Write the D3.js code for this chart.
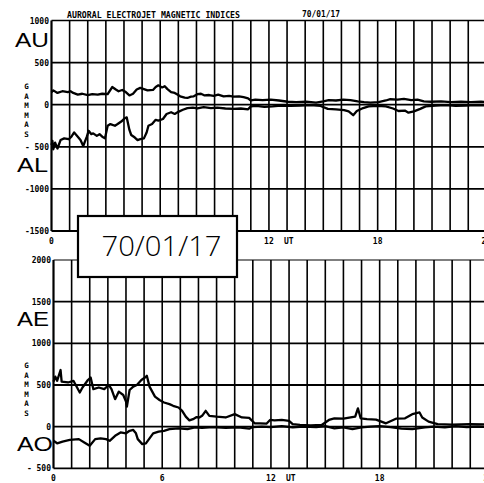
<!DOCTYPE html>
<html>
<head>
<meta charset="utf-8">
<script src="https://cdn.jsdelivr.net/npm/d3@7"></script>
<style>
  html, body { margin: 0; padding: 0; background: #fff; }
  svg { display: block; }
</style>
</head>
<body>
<div id="chart"></div>
<script>
// Auroral electrojet indices for 1970-01-17, [UT hour, gammas]
const AU = [
  [0,150],[0.1,170],[0.33,140],[0.6,160],[0.9,150],[1.05,160],[1.2,140],[1.45,120],[1.7,130],
  [2.0,115],[2.25,125],[2.55,120],[2.8,130],[3.1,125],[3.35,210],[3.55,180],[3.7,160],[3.9,175],
  [4.1,150],[4.3,110],[4.5,130],[4.7,180],[4.9,200],[5.1,185],[5.3,170],[5.6,175],[5.75,210],
  [5.9,230],[6.1,205],[6.25,220],[6.4,185],[6.6,150],[6.8,140],[6.95,120],[7.1,100],[7.35,85],
  [7.5,80],[7.7,95],[7.85,100],[8.05,125],[8.25,130],[8.45,110],[8.7,115],[8.95,105],[9.2,120],
  [9.5,100],[9.8,105],[10.05,95],[10.35,100],[10.6,90],[10.85,75],[11.0,50],[11.25,60],[11.65,55],
  [12.1,60],[12.55,50],[13.05,35],[13.5,30],[14.05,35],[14.6,25],[15.0,40],[15.3,55],[15.7,50],
  [16.1,60],[16.5,55],[16.9,40],[17.25,30],[17.6,25],[18.05,30],[18.45,50],[18.7,65],[19.1,60],
  [19.45,70],[19.85,55],[20.2,60],[20.55,40],[20.95,35],[21.5,40],[22.05,30],[22.6,35],[23.15,30],
  [23.7,35],[24,30]
];
const AL = [
  [0,-480],[0.05,-430],[0.1,-530],[0.2,-450],[0.33,-520],[0.5,-420],[0.7,-400],[0.95,-410],
  [1.1,-380],[1.25,-330],[1.45,-380],[1.6,-420],[1.75,-490],[1.95,-380],[2.05,-310],[2.2,-350],
  [2.3,-340],[2.5,-370],[2.65,-350],[2.8,-380],[2.95,-400],[3.1,-250],[3.25,-230],[3.5,-250],
  [3.65,-230],[3.85,-200],[4.05,-160],[4.15,-150],[4.3,-300],[4.4,-360],[4.6,-390],[4.75,-420],
  [4.9,-410],[5.1,-400],[5.25,-330],[5.35,-250],[5.55,-230],[5.75,-180],[5.9,-190],[6.15,-170],
  [6.35,-110],[6.6,-90],[6.8,-110],[7.0,-85],[7.25,-60],[7.5,-40],[7.8,-35],[8.05,-45],[8.4,-30],
  [8.8,-40],[9.15,-35],[9.6,-45],[10.05,-50],[10.45,-45],[10.85,-55],[11.0,-20],[11.3,-15],
  [11.75,-25],[12.2,-20],[12.65,-10],[13.2,-15],[13.75,-10],[14.3,-5],[14.85,-15],[15.25,-50],
  [15.7,-55],[16.15,-65],[16.4,-80],[16.65,-125],[16.85,-75],[17.2,-40],[17.5,-20],[18.0,-15],
  [18.45,-20],[18.85,-45],[19.15,-75],[19.5,-70],[19.7,-95],[20.0,-80],[20.35,-50],[20.65,-20],
  [21.2,-10],[21.75,-5],[22.3,-15],[22.85,-10],[23.4,-5],[24,-10]
];
const AE = [
  [0,540],[0.1,600],[0.2,550],[0.39,680],[0.45,540],[0.8,530],[1.1,550],[1.45,410],[1.6,470],
  [1.9,560],[2.05,590],[2.2,450],[2.5,470],[2.8,450],[3.05,500],[3.2,450],[3.4,330],[3.6,420],
  [3.85,380],[4.0,300],[4.05,240],[4.2,440],[4.4,480],[4.6,500],[4.85,560],[5.05,590],[5.15,610],
  [5.3,480],[5.6,360],[5.85,320],[6.1,290],[6.4,270],[6.6,250],[6.9,230],[7.1,190],[7.3,120],
  [7.5,75],[7.7,90],[7.9,115],[8.05,110],[8.2,130],[8.4,190],[8.6,130],[9.0,120],[9.5,110],
  [10.0,150],[10.4,110],[10.8,105],[11.1,40],[11.4,40],[11.75,35],[11.95,80],[12.2,75],[12.6,80],
  [13.0,70],[13.2,30],[13.6,20],[14.2,15],[14.8,20],[15.2,80],[15.5,100],[16.0,95],[16.4,110],
  [16.65,120],[16.8,220],[16.95,100],[17.3,90],[17.8,85],[18.35,40],[18.9,95],[19.4,100],
  [19.8,150],[20.2,170],[20.35,110],[20.7,60],[21.2,30],[22.0,25],[23.0,30],[24,25]
];
const AO = [
  [0,-170],[0.2,-200],[0.5,-180],[0.9,-160],[1.4,-150],[1.7,-190],[2.0,-230],[2.3,-150],
  [2.6,-140],[2.9,-150],[3.1,-170],[3.4,-110],[3.7,-70],[4.0,-80],[4.2,-50],[4.4,-40],[4.55,-80],
  [4.65,-150],[4.9,-210],[5.1,-200],[5.3,-140],[5.5,-80],[5.8,-60],[6.1,-50],[6.4,-30],[6.9,-20],
  [7.4,-30],[7.8,-10],[8.2,-15],[8.8,-5],[9.5,-15],[10.2,-10],[10.8,-25],[11.0,-5],[11.5,0],
  [12.0,-5],[12.6,5],[13.2,-10],[13.8,0],[14.5,-5],[15.0,5],[15.5,-20],[16.0,-10],[16.5,-30],
  [17.0,-10],[17.5,0],[18.0,5],[18.6,-5],[19.2,-25],[19.8,-30],[20.5,-10],[21.0,0],[21.6,-10],
  [22.2,5],[22.8,-5],[23.4,0],[24,-5]
];

const topTicks = [1000, 500, 0, -500, -1000, -1500];
const topTickLabels = ["1000", "500", "0", "- 500", "-1000", "-1500"];
const bottomTicks = [2000, 1500, 1000, 500, 0, -500];
const bottomTickLabels = ["2000", "1500", "1000", "500", "0", "- 500"];
const hourTicks = [0, 6, 12, 18, 24];
const hourTickLabels = ["0", "6", "12", "18", "24"];
const unitLetters = ["G", "A", "M", "M", "A", "S"];

const W = 484, H = 483;
const svg = d3.select("#chart").append("svg")
  .attr("width", W).attr("height", H);

const plotFont = "'DejaVu Sans Mono', monospace";
const bigFont = "'Liberation Sans', Arial, sans-serif";

function panel(opts) {
  const x = d3.scaleLinear().domain([0, 24]).range([opts.x0, opts.x0 + 24 * 18.12]);
  const y = d3.scaleLinear().domain(opts.domain).range(opts.range);
  const g = svg.append("g");
  const [ymin, ymax] = opts.domain;

  // horizontal grid (every 500 gammas)
  const hLines = d3.range(ymin, ymax + 1, 500);
  g.selectAll("line.h").data(hLines).join("line")
    .attr("x1", x(0)).attr("x2", x(24))
    .attr("y1", d => y(d)).attr("y2", d => y(d))
    .attr("stroke", "#000")
    .attr("stroke-width", d => d === ymax ? opts.topWidth : 1.8);

  // hourly vertical grid
  g.selectAll("line.v").data(d3.range(0, 25)).join("line")
    .attr("x1", d => x(d)).attr("x2", d => x(d))
    .attr("y1", y(ymax)).attr("y2", y(ymin))
    .attr("stroke", "#000")
    .attr("stroke-width", d => d === 0 ? 2.2 : 1.6);

  // y tick labels
  g.selectAll("text.yt").data(opts.ticks).join("text")
    .attr("x", opts.x0 - 2.5)
    .attr("y", d => y(d) + 3)
    .attr("text-anchor", "end")
    .attr("font-family", plotFont).attr("font-weight", "bold")
    .attr("font-size", 8)
    .text((d, i) => opts.tickLabels[i]);

  // x tick labels (the date stamp covers the upper panel's "6")
  const shownHours = hourTicks.filter(h => !opts.hideHours.includes(h));
  g.selectAll("text.xt").data(shownHours).join("text")
    .attr("x", d => x(d))
    .attr("y", y(ymin) + 13)
    .attr("text-anchor", "middle")
    .attr("font-family", plotFont).attr("font-weight", "bold")
    .attr("font-size", 8)
    .text(d => hourTickLabels[hourTicks.indexOf(d)]);
  g.append("text")
    .attr("x", x(12) + 15).attr("y", y(ymin) + 13)
    .attr("font-family", plotFont).attr("font-weight", "bold")
    .attr("font-size", 8)
    .text("UT");

  // unit label, one letter per line
  g.selectAll("text.unit").data(unitLetters).join("text")
    .attr("x", 26.5)
    .attr("y", (d, i) => opts.unitTop + i * 9.5)
    .attr("text-anchor", "middle")
    .attr("font-family", plotFont).attr("font-weight", "bold")
    .attr("font-size", 7.5)
    .text(d => d);

  // index curves
  const line = d3.line().x(d => x(d[0])).y(d => y(d[1]));
  opts.series.forEach(s => {
    g.append("path")
      .datum(s)
      .attr("d", line)
      .attr("fill", "none")
      .attr("stroke", "#000")
      .attr("stroke-width", 2.3)
      .attr("stroke-linejoin", "round");
  });

  // big series names
  opts.names.forEach(n => {
    g.append("text")
      .attr("x", n.x).attr("y", n.y)
      .attr("font-family", bigFont)
      .attr("font-size", 20)
      .attr("textLength", n.w).attr("lengthAdjust", "spacingAndGlyphs")
      .text(n.t);
  });
  return { x, y };
}

panel({
  x0: 51.5, domain: [-1500, 1000], range: [231, 20.5],
  ticks: topTicks, tickLabels: topTickLabels, unitTop: 89, topWidth: 1.5,
  hideHours: [6],
  series: [AU, AL],
  names: [{ t: "AU", x: 15, y: 46.7, w: 34 }, { t: "AL", x: 17, y: 171.7, w: 31 }]
});

panel({
  x0: 53.5, domain: [-500, 2000], range: [468.3, 260],
  ticks: bottomTicks, tickLabels: bottomTickLabels, unitTop: 368, topWidth: 1.1,
  hideHours: [],
  series: [AE, AO],
  names: [{ t: "AE", x: 17, y: 326, w: 32 }, { t: "AO", x: 17, y: 450.7, w: 36 }]
});

// heading
svg.append("text")
  .attr("x", 67).attr("y", 18.3)
  .attr("font-family", plotFont).attr("font-weight", "bold")
  .attr("font-size", 8)
  .attr("textLength", 173).attr("lengthAdjust", "spacingAndGlyphs")
  .text("AURORAL ELECTROJET MAGNETIC INDICES");
svg.append("text")
  .attr("x", 302).attr("y", 17)
  .attr("font-family", plotFont).attr("font-weight", "bold")
  .attr("font-size", 8)
  .attr("textLength", 38).attr("lengthAdjust", "spacingAndGlyphs")
  .text("70/01/17");

// date stamp box
svg.append("rect")
  .attr("x", 78).attr("y", 216).attr("width", 159).attr("height", 61)
  .attr("fill", "#fff").attr("stroke", "#000").attr("stroke-width", 2.2);
svg.append("text")
  .attr("x", 101.5).attr("y", 256)
  .attr("font-family", "'Open Sans', 'Liberation Sans', sans-serif")
  .attr("font-weight", 300)
  .attr("font-size", 28)
  .attr("textLength", 120).attr("lengthAdjust", "spacingAndGlyphs")
  .text("70/01/17");
</script>
</body>
</html>
